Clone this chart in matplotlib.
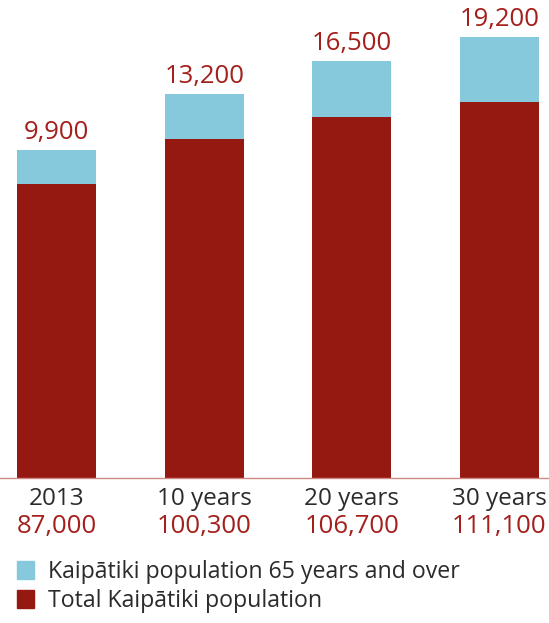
import matplotlib
matplotlib.use("Agg")
import matplotlib.pyplot as plt
import numpy as np
from matplotlib.patches import Patch

categories = ["2013", "10 years", "20 years", "30 years"]
total_pop = [87000, 100300, 106700, 111100]
over65_pop = [9900, 13200, 16500, 19200]
total_labels = ["87,000", "100,300", "106,700", "111,100"]
over65_labels = ["9,900", "13,200", "16,500", "19,200"]
legend_labels = ["Kaipātiki population 65 years and over", "Total Kaipātiki population"]

RED = "#951811"
BLUE = "#86c9dd"
LABEL_RED = "#a3201c"
DARK = "#2b2b2b"

plt.rcParams['font.family'] = ['Open Sans', 'DejaVu Sans']

W, H = 549, 623
fig = plt.figure(figsize=(W / 100, H / 100), dpi=100)
base_px = 477.5
ax = fig.add_axes([0, (H - base_px) / H, 1, base_px / H])

x = np.arange(len(categories))
spacing = 147.5
width = 79 / spacing
ax.bar(x, total_pop, width=width, color=RED, zorder=2)
top = ax.bar(x, over65_pop, width=width, bottom=total_pop, color=BLUE, zorder=2)
ax.bar_label(top, labels=over65_labels, padding=4, color=LABEL_RED, fontsize=18.5)

ax.set_xlim(-56.9 / spacing, -56.9 / spacing + W / spacing)
ax.set_ylim(0, base_px / (293.8 / 87000))

for s in ["top", "left", "right"]:
    ax.spines[s].set_visible(False)
ax.spines["bottom"].set_color("#d08a86")
ax.spines["bottom"].set_linewidth(1.0)
ax.set_xticks([])
ax.set_yticks([])

for xi, cat, tl in zip(x, categories, total_labels):
    ax.annotate(cat, xy=(xi, 0), xycoords=('data', 'axes fraction'),
                xytext=(0, -20), textcoords='offset points',
                ha='center', va='baseline', fontsize=17.5, color=DARK)
    ax.annotate(tl, xy=(xi, 0), xycoords=('data', 'axes fraction'),
                xytext=(0, -40), textcoords='offset points',
                ha='center', va='baseline', fontsize=18.5, color=LABEL_RED)

handles = [Patch(color=BLUE), Patch(color=RED)]
fig.legend(handles, legend_labels, loc='upper left',
           bbox_to_anchor=(10 / W, 1 - 553 / H), frameon=False,
           fontsize=16.7, labelcolor=DARK, handlelength=0.75, handleheight=0.78,
           handletextpad=0.6, labelspacing=0.22, borderaxespad=0, borderpad=0.3)

fig.savefig("out.png", dpi=100)
